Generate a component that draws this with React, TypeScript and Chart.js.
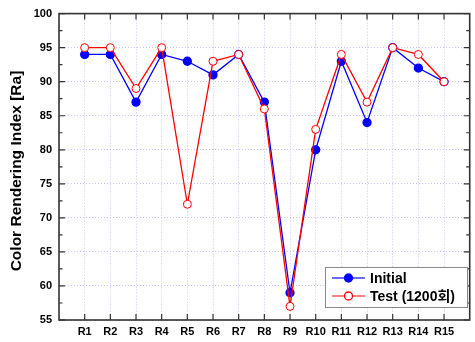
import React, { useEffect, useRef } from "react";
import { Chart, registerables } from "chart.js";

Chart.register(...registerables);

const categories = ["R1", "R2", "R3", "R4", "R5", "R6", "R7", "R8", "R9", "R10", "R11", "R12", "R13", "R14", "R15"];
const initialValues = [94, 94, 87, 94, 93, 91, 94, 87, 59, 80, 93, 84, 95, 92, 90];
const testValues = [95, 95, 89, 95, 72, 93, 94, 86, 57, 83, 94, 87, 95, 94, 90];
const yTicks = [55, 60, 65, 70, 75, 80, 85, 90, 95, 100];
const seriesNames = ["Initial", "Test (1200회)"];
const yTitle = "Color Rendering Index [Ra]";

const FONT = "'Liberation Sans', Arial, 'Noto Sans CJK KR', sans-serif";

const framePlugin = {
  id: "frameAndLegend",
  afterDraw(chart: any) {
    const ctx = chart.ctx;
    const { left, right, top, bottom } = chart.chartArea;
    const xs = chart.scales.x;
    const ys = chart.scales.y;
    ctx.save();
    ctx.strokeStyle = "#333";
    ctx.lineWidth = 1.6;
    ctx.strokeRect(left, top, right - left, bottom - top);
    ctx.lineWidth = 1.2;
    ctx.beginPath();
    for (let i = 1; i <= categories.length; i++) {
      const px = xs.getPixelForValue(i);
      ctx.moveTo(px, bottom);
      ctx.lineTo(px, bottom - 6);
      ctx.moveTo(px, top);
      ctx.lineTo(px, top + 6);
    }
    const yMin = yTicks[0];
    const yMax = yTicks[yTicks.length - 1];
    for (let v = yMin; v <= yMax; v += 2.5) {
      const py = ys.getPixelForValue(v);
      const len = v % 5 === 0 ? 6 : 3.5;
      ctx.moveTo(left, py);
      ctx.lineTo(left + len, py);
      ctx.moveTo(right, py);
      ctx.lineTo(right - len, py);
    }
    ctx.stroke();

    // y axis title
    ctx.save();
    ctx.translate(17, 171);
    ctx.rotate(-Math.PI / 2);
    ctx.fillStyle = "#000";
    ctx.font = `bold 15.5px ${FONT}`;
    ctx.textAlign = "center";
    ctx.textBaseline = "middle";
    ctx.fillText(yTitle, 0, 0);
    ctx.restore();

    // legend
    const lx = 325, ly = 267, lw = 142, lh = 40;
    ctx.fillStyle = "#fff";
    ctx.fillRect(lx, ly, lw, lh);
    ctx.strokeStyle = "#888";
    ctx.lineWidth = 1;
    ctx.strokeRect(lx + 0.5, ly + 0.5, lw, lh);
    const rows = [
      { ds: chart.data.datasets[1], y: 278, line: "#3838ff" },
      { ds: chart.data.datasets[0], y: 296, line: "#ff5a5a" },
    ];
    rows.forEach((r) => {
      ctx.strokeStyle = r.line;
      ctx.lineWidth = 1.3;
      ctx.beginPath();
      ctx.moveTo(332, r.y);
      ctx.lineTo(365, r.y);
      ctx.stroke();
      ctx.beginPath();
      ctx.arc(348.5, r.y, 4, 0, Math.PI * 2);
      ctx.fillStyle = r.ds.pointBackgroundColor;
      ctx.fill();
      ctx.strokeStyle = r.ds.borderColor;
      ctx.stroke();
      ctx.fillStyle = "#000";
      ctx.font = `bold 14px ${FONT}`;
      ctx.textAlign = "left";
      ctx.textBaseline = "middle";
      ctx.fillText(r.ds.label, 370, r.y + 1);
    });
    ctx.restore();
  },
};

export default function App() {
  const ref = useRef<HTMLCanvasElement>(null);
  useEffect(() => {
    if (!ref.current) return;
    const chart = new Chart(ref.current, {
      type: "line",
      data: {
        datasets: [
          {
            label: seriesNames[1],
            data: testValues.map((y, i) => ({ x: i + 1, y })),
            borderColor: "#ff0000",
            backgroundColor: "#ffffff",
            pointBackgroundColor: "#ffffff",
            pointBorderColor: "#ff0000",
            pointBorderWidth: 1,
            pointRadius: 4,
            borderWidth: 1.3,
            order: 0,
          },
          {
            label: seriesNames[0],
            data: initialValues.map((y, i) => ({ x: i + 1, y })),
            borderColor: "#0000ff",
            backgroundColor: "#0000ff",
            pointBackgroundColor: "#0000ff",
            pointBorderColor: "#0000ff",
            pointRadius: 4,
            borderWidth: 1.3,
            order: 1,
          },
        ],
      },
      options: {
        responsive: false,
        animation: false,
        layout: { padding: { top: 11, right: 1, left: 0, bottom: 0 } },
        plugins: { legend: { display: false }, tooltip: { enabled: false } },
        scales: {
          x: {
            type: "linear",
            min: 0,
            max: categories.length + 1,
            afterBuildTicks: (s: any) => {
              s.ticks = categories.map((_, i) => ({ value: i + 1 }));
            },
            afterFit: (s: any) => {
              s.height = 22;
            },
            ticks: {
              autoSkip: false,
              maxRotation: 0,
              padding: 5,
              color: "#000",
              font: { family: FONT, size: 11, weight: "bold" },
              callback: (v: any) => categories[Number(v) - 1] ?? "",
            },
            grid: { color: "#c4c4ff", lineWidth: 1, drawTicks: false },
            border: { display: false, dash: [1, 2] },
          },
          y: {
            min: yTicks[0],
            max: yTicks[yTicks.length - 1],
            afterBuildTicks: (s: any) => {
              s.ticks = yTicks.map((v) => ({ value: v }));
            },
            afterFit: (s: any) => {
              s.width = 59;
            },
            ticks: {
              padding: 7,
              color: "#000",
              font: { family: FONT, size: 11, weight: "bold" },
            },
            grid: { color: "#c4c4ff", lineWidth: 1, drawTicks: false },
            border: { display: false, dash: [1, 2] },
          },
        },
      },
      plugins: [framePlugin],
    });
    return () => chart.destroy();
  }, []);
  return (
    <div style={{ position: "absolute", left: 0, top: 0, width: 475, height: 342 }}>
      <canvas ref={ref} width={475} height={342} style={{ display: "block" }} />
    </div>
  );
}
